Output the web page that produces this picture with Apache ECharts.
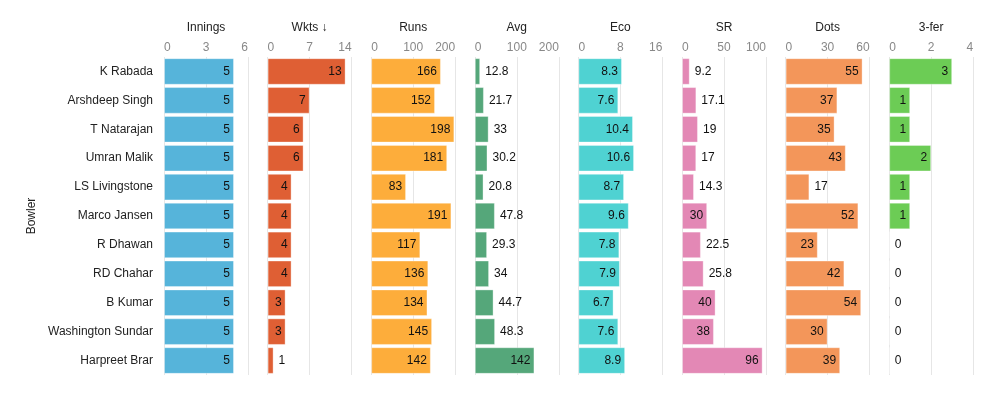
<!DOCTYPE html>
<html>
<head>
<meta charset="utf-8">
<script src="https://cdn.jsdelivr.net/npm/echarts@6/dist/echarts.min.js"></script>
<style>
  html, body { margin: 0; padding: 0; background: #fff; }
  #main { width: 990px; height: 399px; }
</style>
</head>
<body>
<div id="main"></div>
<script>
// bowlers, top to bottom
var bowlers = ['K Rabada', 'Arshdeep Singh', 'T Natarajan', 'Umran Malik', 'LS Livingstone',
  'Marco Jansen', 'R Dhawan', 'RD Chahar', 'B Kumar', 'Washington Sundar', 'Harpreet Brar'];

var innings = [5, 5, 5, 5, 5, 5, 5, 5, 5, 5, 5];
var wkts = [13, 7, 6, 6, 4, 4, 4, 4, 3, 3, 1];
var runs = [166, 152, 198, 181, 83, 191, 117, 136, 134, 145, 142];
var avg = [12.8, 21.7, 33, 30.2, 20.8, 47.8, 29.3, 34, 44.7, 48.3, 142];
var eco = [8.3, 7.6, 10.4, 10.6, 8.7, 9.6, 7.8, 7.9, 6.7, 7.6, 8.9];
var sr = [9.2, 17.1, 19, 17, 14.3, 30, 22.5, 25.8, 40, 38, 96];
var dots = [55, 37, 35, 43, 17, 52, 23, 42, 54, 30, 39];
var threeFer = [3, 1, 1, 2, 1, 1, 0, 0, 0, 0, 0];

// panel titles and axis ranges
var titles = ['Innings', 'Wkts \u2193', 'Runs', 'Avg', 'Eco', 'SR', 'Dots', '3-fer'];
var axisMax = [6, 14, 200, 200, 16, 100, 60, 4];
var axisStep = [3, 7, 100, 100, 8, 50, 30, 2];
var colors = ['#56b4da', '#df5f34', '#fdad3b', '#55a77a', '#4fd2d2', '#e388b5', '#f3965a', '#6ccc55'];

var panels = [innings, wkts, runs, avg, eco, sr, dots, threeFer];

var FONT = '"Liberation Sans", Arial, sans-serif';
var panelLeft = 164, panelStep = 103.6, panelW = 84;
var gridTop = 57, gridH = 318;

var ctx = document.createElement('canvas').getContext('2d');
ctx.font = '12px ' + FONT;

var grids = [], xAxes = [], yAxes = [], series = [];
for (var i = 0; i < panels.length; i++) {
    grids.push({ left: panelLeft + i * panelStep, top: gridTop, width: panelW, height: gridH });
    xAxes.push({
        gridIndex: i,
        type: 'value',
        position: 'top',
        min: 0, max: axisMax[i], interval: axisStep[i],
        name: titles[i],
        nameLocation: 'middle',
        nameGap: 23,
        nameTextStyle: { color: '#222', fontSize: 12, fontFamily: FONT },
        axisLine: { show: false },
        axisTick: { show: false },
        axisLabel: { color: '#888', fontSize: 12, fontFamily: FONT, margin: 3,
            alignMinLabel: 'left', alignMaxLabel: 'right' },
        splitLine: { show: true, lineStyle: { color: '#e6e6e6', width: 1 } }
    });
    yAxes.push({
        gridIndex: i,
        type: 'category',
        data: bowlers,
        inverse: true,
        axisLine: { show: false },
        axisTick: { show: false },
        axisLabel: { show: i === 0, color: '#222', fontSize: 12, fontFamily: FONT, margin: 11 },
        name: i === 0 ? 'Bowler' : '',
        nameLocation: 'middle',
        nameRotate: 90,
        nameGap: 126,
        nameTextStyle: { color: '#222', fontSize: 12, fontFamily: FONT }
    });

    // label goes inside the bar only when it fits
    var pxPerUnit = panelW / axisMax[i];
    var items = panels[i].map(function (v) {
        var txt = String(v);
        var inside = v * pxPerUnit >= ctx.measureText(txt).width + 11;
        return {
            value: v,
            label: { position: inside ? 'insideRight' : 'right', distance: inside ? 4 : 5 }
        };
    });
    series.push({
        type: 'bar',
        xAxisIndex: i,
        yAxisIndex: i,
        data: items,
        barCategoryGap: '8%',
        itemStyle: { color: colors[i], borderColor: 'rgba(255,255,255,0.35)', borderWidth: 1 },
        label: { show: true, color: '#111', fontSize: 12, fontFamily: FONT },
        emphasis: { disabled: true },
        silent: true
    });
}

var chart = echarts.init(document.getElementById('main'), null, { renderer: 'canvas' });
chart.setOption({
    animation: false,
    textStyle: { fontFamily: FONT },
    grid: grids,
    xAxis: xAxes,
    yAxis: yAxes,
    series: series
});
</script>
</body>
</html>
